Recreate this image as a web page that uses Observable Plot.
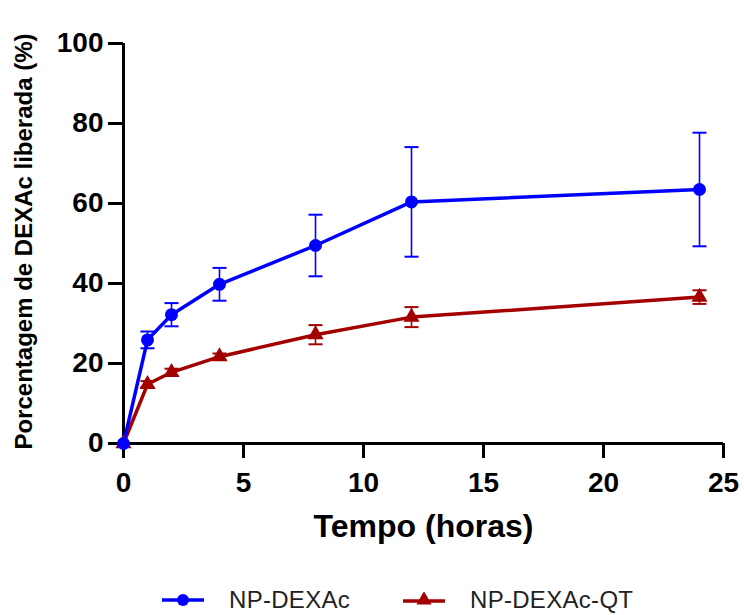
<!DOCTYPE html>
<html>
<head>
<meta charset="utf-8">
<script src="https://cdn.jsdelivr.net/npm/d3@7"></script>
<script src="https://cdn.jsdelivr.net/npm/@observablehq/plot@0.6"></script>
<style>
  body { margin: 0; background: #fff; font-family: "Liberation Sans", Arial, sans-serif; }
  #wrap { position: relative; width: 744px; height: 615px; overflow: hidden; }
  #legend { position: absolute; left: 0; top: 585px; width: 744px; height: 30px; }
  .item { position: absolute; top: 0; height: 30px; display: flex; align-items: center; }
  .item span { font-size: 24px; color: #222; margin-left: 25px; letter-spacing: 0.3px; }
</style>
</head>
<body>
<div id="wrap">
  <div id="chart"></div>
  <div id="legend"></div>
</div>
<script>
// ---- data ----
const times = [0, 1, 2, 4, 8, 12, 24];
const seriesNames = ["NP-DEXAc", "NP-DEXAc-QT"];
const dexacMean = [0, 25.9, 32.2, 39.8, 49.5, 60.4, 63.5];
const dexacErr  = [0, 2.1, 2.9, 4.1, 7.7, 13.7, 14.2];
const qtMean    = [0, 14.8, 17.8, 21.7, 27.2, 31.6, 36.6];
const qtErr     = [0, 0.8, 0.9, 0.8, 2.4, 2.5, 1.7];
const xTicks = [0, 5, 10, 15, 20, 25];
const yTicks = [0, 20, 40, 60, 80, 100];
const xLabel = "Tempo (horas)";
const yLabel = "Porcentagem de DEXAc liberada (%)";
const colors = ["#0000ff", "#a30000"];

// ---- table ----
const rows = [];
times.forEach((t, i) => {
  rows.push({series: seriesNames[1], t, v: qtMean[i], e: qtErr[i]});
});
times.forEach((t, i) => {
  rows.push({series: seriesNames[0], t, v: dexacMean[i], e: dexacErr[i]});
});
const errRows = rows.filter(d => d.e > 0);

const cap = { draw(ctx) { ctx.moveTo(-7, 0); ctx.lineTo(7, 0); } };
const colorOf = s => colors[seriesNames.indexOf(s)];

const W = 744, H = 585;
const chart = Plot.plot({
  width: W, height: H,
  marginLeft: 123, marginRight: 21, marginTop: 43, marginBottom: H - 443,
  style: { fontFamily: "Liberation Sans, Arial, sans-serif", fontWeight: "bold", color: "#000", background: "#fff" },
  x: { domain: [0, 25], ticks: xTicks },
  y: { domain: [0, 100], ticks: yTicks },
  marks: [
    Plot.axisX({ ticks: xTicks, tickSize: 15, tickPadding: 14, strokeWidth: 3, fontSize: 28, fontWeight: "bold", label: null }),
    Plot.axisY({ ticks: yTicks, tickSize: 15, tickPadding: 5, strokeWidth: 3, fontSize: 28, fontWeight: "bold", label: null }),
    Plot.ruleX([0], { y1: 0, y2: 100, strokeWidth: 3, stroke: "#000" }),
    Plot.ruleY([0], { x1: 0, x2: 25, strokeWidth: 3, stroke: "#000" }),
    // error bars
    Plot.ruleX(errRows, { x: "t", y1: d => d.v - d.e, y2: d => d.v + d.e, stroke: d => colorOf(d.series), strokeWidth: 1.6 }),
    Plot.dot(errRows, { x: "t", y: d => d.v + d.e, symbol: cap, stroke: d => colorOf(d.series), fill: "none", strokeWidth: 2 }),
    Plot.dot(errRows, { x: "t", y: d => d.v - d.e, symbol: cap, stroke: d => colorOf(d.series), fill: "none", strokeWidth: 2 }),
    // lines
    Plot.line(rows, { x: "t", y: "v", z: "series", stroke: d => colorOf(d.series), strokeWidth: 3.5 }),
    Plot.dot(rows.filter(d => d.series === seriesNames[1]), { x: "t", y: "v", symbol: "triangle", r: 6, fill: colors[1], stroke: "none" }),
    Plot.dot(rows.filter(d => d.series === seriesNames[0]), { x: "t", y: "v", symbol: "circle", r: 6.5, fill: colors[0], stroke: "none" }),
    // titles
    Plot.text([xLabel], { frameAnchor: "bottom", dy: 93, fontSize: 32, fontWeight: "bold", fill: "#000" }),
    Plot.text([yLabel], { frameAnchor: "left", textAnchor: "middle", dx: -99, dy: -2, rotate: -90, fontSize: 24, fontWeight: "bold", fill: "#000", letterSpacing: 1.5 })
  ]
});
document.getElementById("chart").appendChild(chart);

// ---- legend ----
const legend = document.getElementById("legend");
const icons = [
  `<svg width="42" height="16"><line x1="0" y1="8" x2="42" y2="8" stroke="${colors[0]}" stroke-width="3.5"/><circle cx="21" cy="8" r="6" fill="${colors[0]}"/></svg>`,
  `<svg width="42" height="16"><line x1="0" y1="9" x2="42" y2="9" stroke="${colors[1]}" stroke-width="3.5"/><path d="${d3.symbol(d3.symbolTriangle, 100)()}" transform="translate(21,8)" fill="${colors[1]}"/></svg>`
];
const lefts = [162, 403];
seriesNames.forEach((name, i) => {
  const el = document.createElement("div");
  el.className = "item";
  el.style.left = lefts[i] + "px";
  el.innerHTML = icons[i] + `<span>${name}</span>`;
  legend.appendChild(el);
});
</script>
</body>
</html>
